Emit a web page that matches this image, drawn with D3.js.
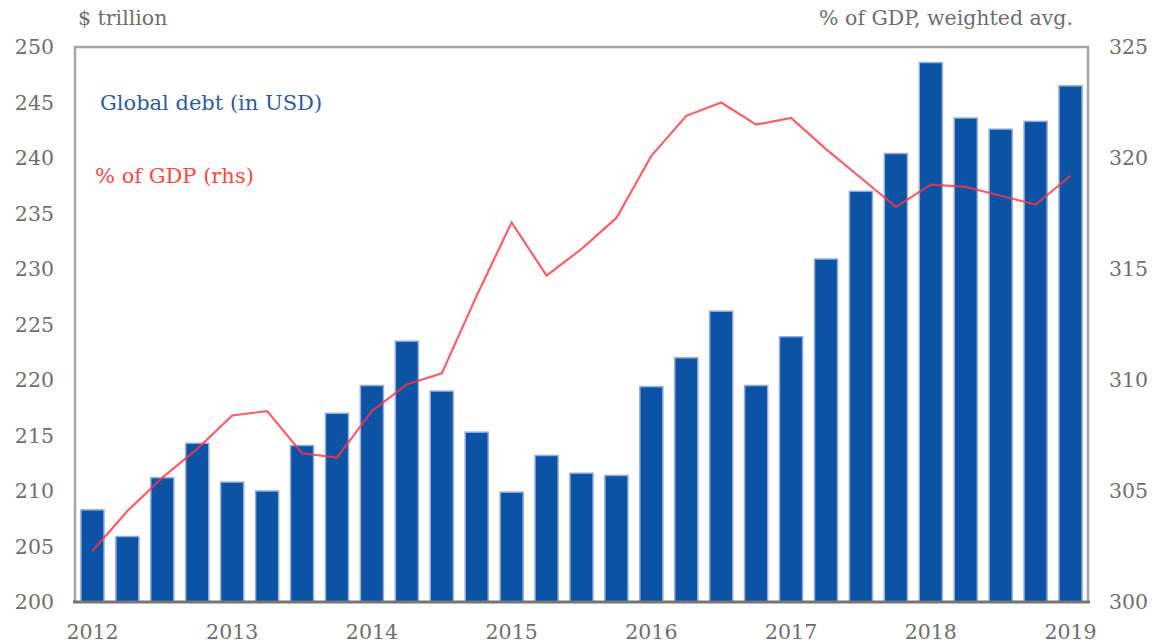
<!DOCTYPE html>
<html>
<head>
<meta charset="utf-8">
<script src="https://cdn.jsdelivr.net/npm/d3@7"></script>
<style>
  body { margin: 0; background: #fff; }
  svg text { font-family: "DejaVu Serif", "Liberation Serif", serif; }
</style>
</head>
<body>
<svg id="drawing_region"></svg>
<script>
// quarterly, 2012 Q1 .. 2019 Q1
const quarters = ['2012Q1','2012Q2','2012Q3','2012Q4','2013Q1','2013Q2','2013Q3','2013Q4',
  '2014Q1','2014Q2','2014Q3','2014Q4','2015Q1','2015Q2','2015Q3','2015Q4',
  '2016Q1','2016Q2','2016Q3','2016Q4','2017Q1','2017Q2','2017Q3','2017Q4',
  '2018Q1','2018Q2','2018Q3','2018Q4','2019Q1'];
const debt = [208.3, 205.9, 211.2, 214.3, 210.8, 210.0, 214.1, 217.0,
  219.5, 223.5, 219.0, 215.3, 209.9, 213.2, 211.6, 211.4,
  219.4, 222.0, 226.2, 219.5, 223.9, 230.9, 237.0, 240.4,
  248.6, 243.6, 242.6, 243.3, 246.5];
const pctGdp = [302.3, 304.1, 305.6, 306.9, 308.4, 308.6, 306.7, 306.5,
  308.6, 309.8, 310.3, 313.8, 317.1, 314.7, 315.9, 317.3,
  320.1, 321.9, 322.5, 321.5, 321.8, 320.4, 319.1, 317.8,
  318.8, 318.7, 318.3, 317.9, 319.2];
const leftTicks = [200, 205, 210, 215, 220, 225, 230, 235, 240, 245, 250];
const rightTicks = [300, 305, 310, 315, 320, 325];
const yearLabels = ['2012','2013','2014','2015','2016','2017','2018','2019'];

const width = 1156, height = 644;
const margin = {top: 47, right: 68, bottom: 42, left: 75};
const fs = 20.5;
const textGray = '#6e6e6e';

const svg = d3.select('#drawing_region')
    .attr('width', width)
    .attr('height', height);

const chart = svg.append('g')
    .attr('transform', `translate(${margin.left}, ${margin.top})`);

const inner_width = width - margin.left - margin.right;
const inner_height = height - margin.top - margin.bottom;

const xscale = d3.scaleBand()
    .domain(quarters)
    .range([0, inner_width])
    .paddingInner(0.34)
    .paddingOuter(0.17);

const yleft = d3.scaleLinear().domain([200, 250]).range([inner_height, 0]);
const yright = d3.scaleLinear().domain([300, 325]).range([inner_height, 0]);

// frame
chart.append('path')
    .attr('d', `M0,${inner_height} V0 H${inner_width} V${inner_height}`)
    .attr('fill', 'none')
    .attr('stroke', '#a6a6a6')
    .attr('stroke-width', 2.5);

// bars
chart.selectAll('rect.bar').data(quarters)
    .enter()
    .append('rect')
    .attr('class', 'bar')
    .attr('x', d => xscale(d))
    .attr('y', (d, i) => yleft(debt[i]))
    .attr('width', xscale.bandwidth())
    .attr('height', (d, i) => inner_height - yleft(debt[i]))
    .attr('fill', '#0c53a5')
    .attr('stroke', '#93acdc')
    .attr('stroke-width', 1.5);

// % of GDP line
const line = d3.line()
    .x((d, i) => xscale(quarters[i]) + xscale.bandwidth() / 2)
    .y(d => yright(d));

chart.append('path')
    .datum(pctGdp)
    .attr('d', line)
    .attr('fill', 'none')
    .attr('stroke', '#ff3344')
    .attr('stroke-opacity', 0.8)
    .attr('stroke-width', 2.2);

// bottom axis line
chart.append('line')
    .attr('x1', -2).attr('x2', inner_width + 2)
    .attr('y1', inner_height).attr('y2', inner_height)
    .attr('stroke', '#757575')
    .attr('stroke-width', 3);

// left axis
const yaxisL = d3.axisLeft(yleft).tickValues(leftTicks).tickSize(0).tickPadding(21);
const gL = chart.append('g').call(yaxisL);
gL.select('.domain').remove();
gL.selectAll('text').attr('fill', textGray).attr('font-size', fs)
    .attr('font-family', '"DejaVu Serif", serif');

// right axis
const yaxisR = d3.axisRight(yright).tickValues(rightTicks).tickSize(0).tickPadding(21);
const gR = chart.append('g').attr('transform', `translate(${inner_width}, 0)`).call(yaxisR);
gR.select('.domain').remove();
gR.selectAll('text').attr('fill', textGray).attr('font-size', fs)
    .attr('font-family', '"DejaVu Serif", serif');

// x axis: label Q1 of each year
const xaxis = d3.axisBottom(xscale)
    .tickValues(yearLabels.map(y => y + 'Q1'))
    .tickFormat(d => d.slice(0, 4))
    .tickSize(0).tickPadding(22);
const gX = chart.append('g').attr('transform', `translate(0, ${inner_height})`).call(xaxis);
gX.select('.domain').remove();
gX.selectAll('text').attr('fill', textGray).attr('font-size', fs)
    .attr('font-family', '"DejaVu Serif", serif');

// titles
svg.append('text').attr('x', 78).attr('y', 25)
    .attr('font-size', fs).attr('fill', textGray).text('$ trillion');
svg.append('text').attr('x', 1073).attr('y', 25).attr('text-anchor', 'end')
    .attr('font-size', fs).attr('fill', textGray).text('% of GDP, weighted avg.');

// legend labels
svg.append('text').attr('x', 100).attr('y', 110)
    .attr('font-size', 21).attr('fill', '#2f5a9c').text('Global debt (in USD)');
svg.append('text').attr('x', 95).attr('y', 183)
    .attr('font-size', 21).attr('fill', '#ff4646').text('% of GDP (rhs)');
</script>
</body>
</html>
